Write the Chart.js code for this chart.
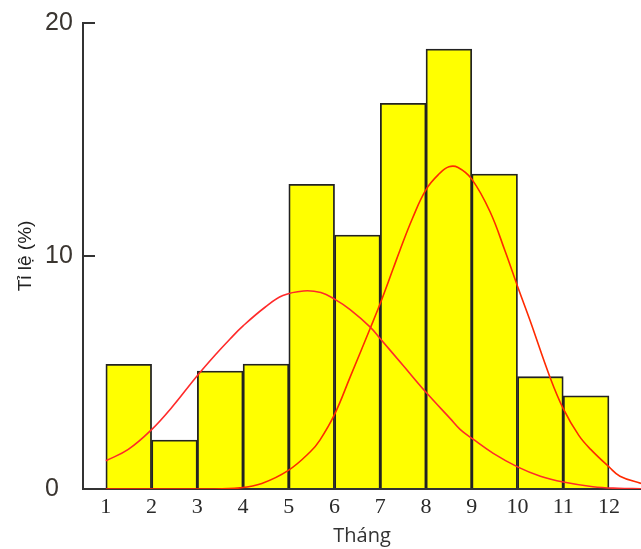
<!DOCTYPE html>
<html>
<head>
<meta charset="utf-8">
<script src="https://cdn.jsdelivr.net/npm/chart.js@4/dist/chart.umd.min.js"></script>
<style>
  html, body { margin: 0; padding: 0; background: #fff; }
  #wrap { width: 641px; height: 549px; position: relative; }
</style>
</head>
<body>
<div id="wrap"><canvas id="c"></canvas></div>
<script>
// ---- data ----
const monthTicks = [1, 2, 3, 4, 5, 6, 7, 8, 9, 10, 11, 12];
const binStarts = [1, 2, 3, 4, 5, 6, 7, 8, 9, 10, 11];
const binPercent = [5.35, 2.1, 5.06, 5.36, 13.08, 10.9, 16.55, 18.88, 13.52, 4.82, 4.0];

const curveAX = [1, 1.49, 2, 2.44, 2.98, 3.39, 3.72, 4, 4.48, 4.87, 5.32, 5.7, 6, 6.34, 6.78, 7, 7.5, 8, 8.53, 8.75, 9.02, 9.47, 10, 10.5, 11, 11.65, 12.2, 12.7];
const curveAY = [1.21, 1.7, 2.55, 3.5, 4.82, 5.75, 6.45, 7.0, 7.8, 8.3, 8.5, 8.43, 8.15, 7.7, 6.95, 6.45, 5.3, 4.15, 3.02, 2.55, 2.15, 1.53, 0.95, 0.55, 0.3, 0.1, 0.03, 0.01];

const curveBX = [1, 3.3, 3.93, 4.41, 4.99, 5.47, 5.68, 6, 6.34, 6.78, 7, 7.28, 7.43, 7.7, 8, 8.3, 8.5, 8.7, 9, 9.4, 9.73, 10, 10.28, 10.71, 11, 11.34, 11.6, 12, 12.24, 12.7];
const curveBY = [0, 0, 0.05, 0.24, 0.8, 1.6, 2.1, 3.2, 4.8, 6.9, 7.97, 9.45, 10.25, 11.6, 12.85, 13.55, 13.83, 13.8, 13.3, 11.9, 10.2, 8.7, 7.2, 4.8, 3.45, 2.3, 1.7, 0.95, 0.55, 0.24];

const xTitle = 'Tháng';
const yTitle = 'Tỉ lệ (%)';

// ---- build ----
const barData = binStarts.map((s, i) => ({ x: s + 0.5, y: binPercent[i] }));
const lineA = curveAX.map((x, i) => ({ x: x, y: curveAY[i] }));
const lineB = curveBX.map((x, i) => ({ x: x, y: curveBY[i] }));

const axisColor = '#333333';

new Chart(document.getElementById('c'), {
  type: 'bar',
  data: {
    datasets: [
      {
        type: 'line', data: lineA, order: 0,
        borderColor: '#ff2a2a', borderWidth: 1.6, pointRadius: 0,
        tension: 0.4, fill: false
      },
      {
        type: 'line', data: lineB, order: 0,
        borderColor: '#ff2a00', borderWidth: 1.6, pointRadius: 0,
        tension: 0.4, fill: false
      },
      {
        type: 'bar', data: barData, order: 5,
        backgroundColor: '#ffff00', borderColor: '#222222', borderWidth: 1.8,
        barPercentage: 1.0, categoryPercentage: 1.0
      }
    ]
  },
  options: {
    responsive: true,
    maintainAspectRatio: false,
    animation: false,
    layout: { padding: { top: 23, right: 0, left: 0, bottom: 0 } },
    plugins: { legend: { display: false }, tooltip: { enabled: false } },
    scales: {
      x: {
        type: 'linear',
        offset: false,
        min: 0.5, max: 12.7,
        grid: { display: false, drawTicks: false, offset: false },
        border: { display: true, color: axisColor, width: 2 },
        afterBuildTicks: (s) => { s.ticks = monthTicks.map(v => ({ value: v })); },
        afterFit: (s) => { s.height = 60; },
        ticks: {
          autoSkip: false, maxRotation: 0, padding: 5,
          color: '#2a2a2a',
          font: { family: 'Liberation Serif', size: 22 },
          callback: (v) => String(v)
        },
        title: {
          display: true, text: xTitle, color: '#333333',
          font: { family: 'Open Sans', size: 20 },
          padding: { top: 0, bottom: 1 }
        }
      },
      y: {
        type: 'linear', position: 'left', weight: 0,
        min: 0, max: 20,
        grid: { display: true, drawOnChartArea: false, drawTicks: true, tickLength: -12, color: axisColor, lineWidth: 2 },
        border: { display: true, color: axisColor, width: 2 },
        afterFit: (s) => { s.width = 38; },
        ticks: {
          stepSize: 10, crossAlign: 'far', padding: 0,
          color: '#3a3530',
          font: { family: 'Liberation Sans', size: 25 }
        }
      },
      yTitleAxis: {
        type: 'linear', position: 'left', weight: 1,
        grid: { display: false, drawTicks: false },
        border: { display: false },
        ticks: { display: false },
        afterFit: (s) => { s.width = 45; },
        title: {
          display: true, text: yTitle, color: '#222222',
          font: { family: 'Liberation Sans', size: 19 },
          padding: { top: 14, bottom: 0 }
        }
      }
    }
  }
});
</script>
</body>
</html>
